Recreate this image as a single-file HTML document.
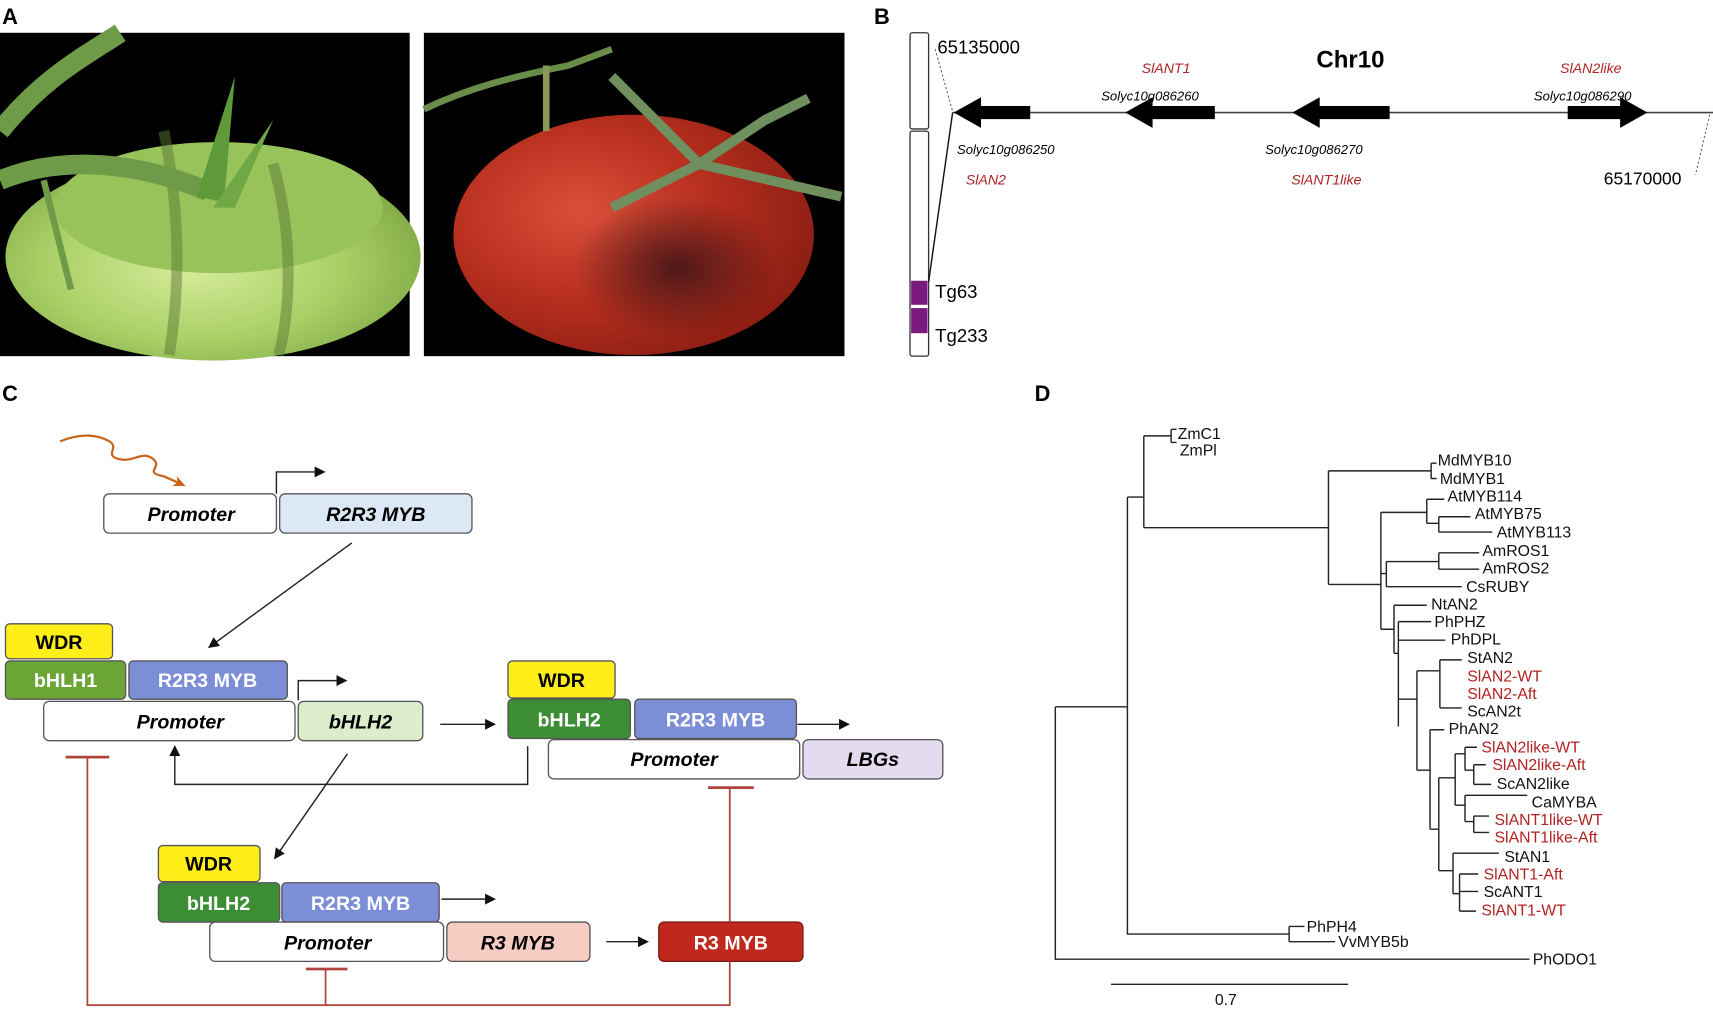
<!DOCTYPE html>
<html><head><meta charset="utf-8"><style>
html,body{margin:0;padding:0;background:#fff;width:1713px;height:1016px;overflow:hidden}
svg{display:block}
text{font-family:"Liberation Sans",Arial,sans-serif}
.bx{stroke:#555;stroke-width:1.2}
.bt{font-weight:bold;font-size:18px;text-anchor:middle}
.it{font-style:italic}
.tl{font-size:14.5px;fill:#111}
.tr{font-size:14.5px;fill:#b22222}
.br{stroke:#222;stroke-width:1.3;fill:none}
</style></head><body>
<svg width="1713" height="1016" viewBox="0 0 1568 930" preserveAspectRatio="none" xmlns="http://www.w3.org/2000/svg">
<defs>
<radialGradient id="gg" cx="0.45" cy="0.55" r="0.6"><stop offset="0" stop-color="#d6ec9a"/><stop offset="0.6" stop-color="#a9cf66"/><stop offset="1" stop-color="#7fa845"/></radialGradient>
<radialGradient id="rg" cx="0.35" cy="0.4" r="0.7"><stop offset="0" stop-color="#d8503a"/><stop offset="0.5" stop-color="#b9301f"/><stop offset="1" stop-color="#8a1d12"/></radialGradient>
<radialGradient id="pg" cx="0.5" cy="0.5" r="0.5"><stop offset="0" stop-color="#3a1418" stop-opacity="0.85"/><stop offset="1" stop-color="#3a1418" stop-opacity="0"/></radialGradient>
<marker id="ah" markerWidth="10" markerHeight="10" refX="8" refY="5" orient="auto" markerUnits="userSpaceOnUse"><path d="M0,0 L10,5 L0,10 z" fill="#111"/></marker>
<marker id="oh" markerWidth="12" markerHeight="12" refX="9" refY="6" orient="auto" markerUnits="userSpaceOnUse"><path d="M0,1 L11,6 L0,11 L3,6 z" fill="#c8641a"/></marker>
</defs>

<!-- Panel A -->
<text x="2" y="22" font-size="20" font-weight="bold">A</text>
<rect x="0" y="30" width="375" height="296" fill="#000"/>
<ellipse cx="195" cy="235" rx="190" ry="95" fill="url(#gg)"/>
<ellipse cx="200" cy="190" rx="150" ry="60" fill="#98c25a"/>
<path d="M150,120 C170,220 160,290 155,325" stroke="#5a7a33" stroke-width="10" fill="none" opacity="0.5"/>
<path d="M250,150 C270,220 265,290 255,325" stroke="#5a7a33" stroke-width="10" fill="none" opacity="0.5"/>
<path d="M0,120 C40,70 80,50 110,30" stroke="#6f9a48" stroke-width="18" fill="none"/>
<path d="M0,165 C60,140 130,150 190,175" stroke="#6f9a48" stroke-width="18" fill="none"/>
<path d="M180,180 L215,70 L205,185 z" fill="#5e9a3a"/>
<path d="M195,190 L250,110 L215,190 z" fill="#6fa845"/>
<path d="M40,165 L65,265" stroke="#6f9a48" stroke-width="6"/>
<rect x="388" y="30" width="385" height="296" fill="#000"/>
<ellipse cx="580" cy="215" rx="165" ry="110" fill="url(#rg)"/>
<ellipse cx="620" cy="245" rx="95" ry="65" fill="url(#pg)"/>
<path d="M388,100 C430,80 470,70 520,60 L560,45" stroke="#6a8c4a" stroke-width="6" fill="none"/>
<path d="M500,60 L500,120" stroke="#8a9a55" stroke-width="6"/>
<path d="M560,70 L640,150 L700,110 L740,90 M640,150 L770,180 M640,150 L560,190 M600,110 L640,150" stroke="#6f8f5e" stroke-width="9" fill="none"/>

<!-- Panel B -->
<text x="800" y="22" font-size="20" font-weight="bold">B</text>
<rect x="833" y="30" width="17" height="88" fill="#fff" stroke="#333" stroke-width="1.2" rx="2"/>
<rect x="833" y="120" width="17" height="206" fill="#fff" stroke="#333" stroke-width="1.2" rx="2"/>
<rect x="834" y="257" width="15" height="22" fill="#7b1a7e"/>
<rect x="834" y="282" width="15" height="23" fill="#7b1a7e"/>
<line x1="856" y1="45" x2="872" y2="102" stroke="#666" stroke-dasharray="2,2"/>
<line x1="872" y1="103" x2="850" y2="258" stroke="#111" stroke-width="1.3"/>
<line x1="1565" y1="105" x2="1552" y2="160" stroke="#666" stroke-dasharray="2,2"/>
<line x1="872" y1="103" x2="1568" y2="103" stroke="#444" stroke-width="1.5"/>
<path d="M873,103 L898,89 L898,97 L943,97 L943,109 L898,109 L898,117 z" fill="#000"/>
<path d="M1030,103 L1055,89 L1055,97 L1112,97 L1112,109 L1055,109 L1055,117 z" fill="#000"/>
<path d="M1183,103 L1208,89 L1208,97 L1272,97 L1272,109 L1208,109 L1208,117 z" fill="#000"/>
<path d="M1508,103 L1483,89 L1483,97 L1435,97 L1435,109 L1483,109 L1483,117 z" fill="#000"/>
<text x="858" y="49" font-size="17">65135000</text>
<text x="1205" y="62" font-size="22" font-weight="bold">Chr10</text>
<text x="1045" y="67" font-size="13" class="it" fill="#b22222">SlANT1</text>
<text x="1008" y="92" font-size="12" class="it">Solyc10g086260</text>
<text x="1428" y="67" font-size="13" class="it" fill="#b22222">SlAN2like</text>
<text x="1404" y="92" font-size="12" class="it">Solyc10g086290</text>
<text x="876" y="141" font-size="12" class="it">Solyc10g086250</text>
<text x="884" y="169" font-size="13" class="it" fill="#b22222">SlAN2</text>
<text x="1158" y="141" font-size="12" class="it">Solyc10g086270</text>
<text x="1182" y="169" font-size="13" class="it" fill="#b22222">SlANT1like</text>
<text x="1468" y="169" font-size="16">65170000</text>
<text x="856" y="273" font-size="17">Tg63</text>
<text x="856" y="313" font-size="17">Tg233</text>

<!-- Panel C -->
<text x="2" y="367" font-size="20" font-weight="bold">C</text>
<path d="M55,404 C75,396 90,398 100,404 C110,410 95,416 108,420 C122,424 130,412 140,420 C150,428 130,432 150,436 L168,444" stroke="#c8641a" stroke-width="2" fill="none" marker-end="url(#oh)"/>
<path d="M253,452 L253,432 L296,432" stroke="#222" stroke-width="1.3" fill="none" marker-end="url(#ah)"/>
<rect class="bx" x="95" y="452" width="158" height="36" rx="5" fill="#fff"/>
<rect class="bx" x="256" y="452" width="176" height="36" rx="5" fill="#dde8f7"/>
<text class="bt it" x="175" y="477">Promoter</text>
<text class="bt it" x="344" y="477">R2R3 MYB</text>
<line x1="322" y1="497" x2="192" y2="592" stroke="#222" stroke-width="1.3" marker-end="url(#ah)"/>

<rect class="bx" x="5" y="571" width="98" height="32" rx="4" fill="#ffee1a"/>
<text class="bt" x="54" y="594">WDR</text>
<rect class="bx" x="5" y="605" width="110" height="35" rx="4" fill="#6aa535"/>
<text class="bt" x="60" y="629" fill="#fff">bHLH1</text>
<rect class="bx" x="118" y="605" width="145" height="35" rx="4" fill="#7b8ed6"/>
<text class="bt" x="190" y="629" fill="#fff">R2R3 MYB</text>
<path d="M273,641 L273,623 L316,623" stroke="#222" stroke-width="1.3" fill="none" marker-end="url(#ah)"/>
<rect class="bx" x="40" y="642" width="230" height="36" rx="5" fill="#fff"/>
<text class="bt it" x="165" y="667">Promoter</text>
<rect class="bx" x="273" y="642" width="114" height="36" rx="5" fill="#dcedcc"/>
<text class="bt it" x="330" y="667">bHLH2</text>
<line x1="403" y1="663" x2="452" y2="663" stroke="#222" stroke-width="1.3" marker-end="url(#ah)"/>

<rect class="bx" x="465" y="605" width="98" height="34" rx="4" fill="#ffee1a"/>
<text class="bt" x="514" y="629">WDR</text>
<rect class="bx" x="465" y="640" width="112" height="36" rx="4" fill="#3d8d35"/>
<text class="bt" x="521" y="665" fill="#fff">bHLH2</text>
<rect class="bx" x="581" y="640" width="148" height="36" rx="4" fill="#7b8ed6"/>
<text class="bt" x="655" y="665" fill="#fff">R2R3 MYB</text>
<line x1="730" y1="663" x2="776" y2="663" stroke="#222" stroke-width="1.3" marker-end="url(#ah)"/>
<rect class="bx" x="502" y="677" width="230" height="36" rx="5" fill="#fff"/>
<text class="bt it" x="617" y="701">Promoter</text>
<rect class="bx" x="735" y="677" width="128" height="36" rx="5" fill="#e4dbf0"/>
<text class="bt it" x="799" y="701">LBGs</text>
<path d="M483,683 L483,718 L160,718 L160,684" stroke="#222" stroke-width="1.3" fill="none" marker-end="url(#ah)"/>
<line x1="318" y1="690" x2="252" y2="785" stroke="#222" stroke-width="1.3" marker-end="url(#ah)"/>

<rect class="bx" x="145" y="774" width="93" height="33" rx="4" fill="#ffee1a"/>
<text class="bt" x="191" y="797">WDR</text>
<rect class="bx" x="145" y="808" width="111" height="36" rx="4" fill="#3d8d35"/>
<text class="bt" x="200" y="833" fill="#fff">bHLH2</text>
<rect class="bx" x="258" y="808" width="144" height="36" rx="4" fill="#7b8ed6"/>
<text class="bt" x="330" y="833" fill="#fff">R2R3 MYB</text>
<line x1="404" y1="823" x2="452" y2="823" stroke="#222" stroke-width="1.3" marker-end="url(#ah)"/>
<rect class="bx" x="192" y="844" width="214" height="36" rx="5" fill="#fff"/>
<text class="bt it" x="300" y="869">Promoter</text>
<rect class="bx" x="409" y="844" width="131" height="36" rx="5" fill="#f5cbc2"/>
<text class="bt it" x="474" y="869">R3 MYB</text>
<line x1="555" y1="862" x2="592" y2="862" stroke="#222" stroke-width="1.3" marker-end="url(#ah)"/>
<rect x="603" y="844" width="132" height="36" rx="5" fill="#c0281e" stroke="#7a1a12" stroke-width="1.2"/>
<text class="bt" x="669" y="869" fill="#fff">R3 MYB</text>

<g stroke="#b0443a" stroke-width="1.6" fill="none">
<path d="M668,880 L668,920 L80,920 L80,693"/>
<line x1="60" y1="693" x2="100" y2="693" stroke-width="2.5"/>
<line x1="298" y1="920" x2="298" y2="887"/>
<line x1="280" y1="887" x2="318" y2="887" stroke-width="2.5"/>
<line x1="668" y1="844" x2="668" y2="721"/>
<line x1="648" y1="721" x2="690" y2="721" stroke-width="2.5"/>
</g>

<!-- Panel D -->
<text x="947" y="367" font-size="20" font-weight="bold">D</text>
<g class="br">
<path d="M966,647 L966,878 L1400,878"/>
<path d="M966,647 L1032,647 M1032,455 L1032,855 L1180,855"/>
<path d="M1180,848 L1180,862 M1180,848 L1194,848 M1180,862 L1222,862"/>
<path d="M1032,455 L1047,455 M1047,399 L1047,483 M1047,399 L1072,399 M1072,393 L1072,405 M1072,393 L1077,393 M1072,405 L1077,405"/>
<path d="M1047,483 L1216,483 M1216,431 L1216,535 M1216,431 L1310,431 M1310,424 L1310,438 M1310,424 L1315,424 M1310,438 L1315,438"/>
<path d="M1216,535 L1264,535 M1264,469 L1264,576"/>
<path d="M1264,469 L1306,469 M1306,457 L1306,479 M1306,457 L1322,457 M1306,479 L1317,479 M1317,473 L1317,487 M1317,473 L1346,473 M1317,487 L1366,487"/>
<path d="M1264,525 L1269,525 M1269,514 L1269,537 M1269,514 L1317,514 M1317,506 L1317,521 M1317,506 L1354,506 M1317,521 L1354,521 M1269,537 L1338,537"/>
<path d="M1264,576 L1276,576 M1276,554 L1276,598 M1276,554 L1306,554 M1276,598 L1280,598 M1280,569 L1280,665 M1280,569 L1310,569 M1280,586 L1323,586"/>
<path d="M1280,640 L1297,640 M1297,614 L1297,705 M1297,614 L1318,614 M1318,604 L1318,648 M1318,604 L1338,604 M1318,648 L1338,648"/>
<path d="M1297,705 L1309,705 M1309,668 L1309,759 M1309,668 L1322,668 M1309,759 L1317,759 M1317,712 L1317,797"/>
<path d="M1317,712 L1332,712 M1332,690 L1332,737 M1332,690 L1341,690 M1341,684 L1341,705 M1341,684 L1352,684 M1341,705 L1349,705 M1349,700 L1349,718 M1349,700 L1360,700 M1349,718 L1365,718"/>
<path d="M1332,737 L1341,737 M1341,728 L1341,752 M1341,728 L1398,728 M1341,752 L1349,752 M1349,747 L1349,762 M1349,747 L1363,747 M1349,762 L1363,762"/>
<path d="M1317,797 L1330,797 M1330,781 L1330,818 M1330,781 L1372,781 M1330,818 L1336,818 M1336,800 L1336,834 M1336,800 L1353,800 M1336,816 L1353,816 M1336,834 L1351,834"/>
<path d="M1017,901 L1234,901"/>
</g>
<text class="tl" x="1078" y="402">ZmC1</text>
<text class="tl" x="1080" y="417">ZmPl</text>
<text class="tl" x="1196" y="853">PhPH4</text>
<text class="tl" x="1225" y="867">VvMYB5b</text>
<text class="tl" x="1403" y="883">PhODO1</text>
<text class="tl" x="1112" y="920">0.7</text>
<text class="tl" x="1316" y="426">MdMYB10</text>
<text class="tl" x="1318" y="443">MdMYB1</text>
<text class="tl" x="1325" y="459">AtMYB114</text>
<text class="tl" x="1350" y="475">AtMYB75</text>
<text class="tl" x="1370" y="492">AtMYB113</text>
<text class="tl" x="1357" y="509">AmROS1</text>
<text class="tl" x="1357" y="525">AmROS2</text>
<text class="tl" x="1342" y="542">CsRUBY</text>
<text class="tl" x="1310" y="558">NtAN2</text>
<text class="tl" x="1313" y="574">PhPHZ</text>
<text class="tl" x="1328" y="590">PhDPL</text>
<text class="tl" x="1343" y="607">StAN2</text>
<text class="tr" x="1343" y="624">SlAN2-WT</text>
<text class="tr" x="1343" y="640">SlAN2-Aft</text>
<text class="tl" x="1343" y="656">ScAN2t</text>
<text class="tl" x="1326" y="672">PhAN2</text>
<text class="tr" x="1356" y="689">SlAN2like-WT</text>
<text class="tr" x="1366" y="705">SlAN2like-Aft</text>
<text class="tl" x="1370" y="722">ScAN2like</text>
<text class="tl" x="1402" y="739">CaMYBA</text>
<text class="tr" x="1368" y="755">SlANT1like-WT</text>
<text class="tr" x="1368" y="771">SlANT1like-Aft</text>
<text class="tl" x="1377" y="789">StAN1</text>
<text class="tr" x="1358" y="805">SlANT1-Aft</text>
<text class="tl" x="1358" y="821">ScANT1</text>
<text class="tr" x="1356" y="838">SlANT1-WT</text>
</svg>
</body></html>
